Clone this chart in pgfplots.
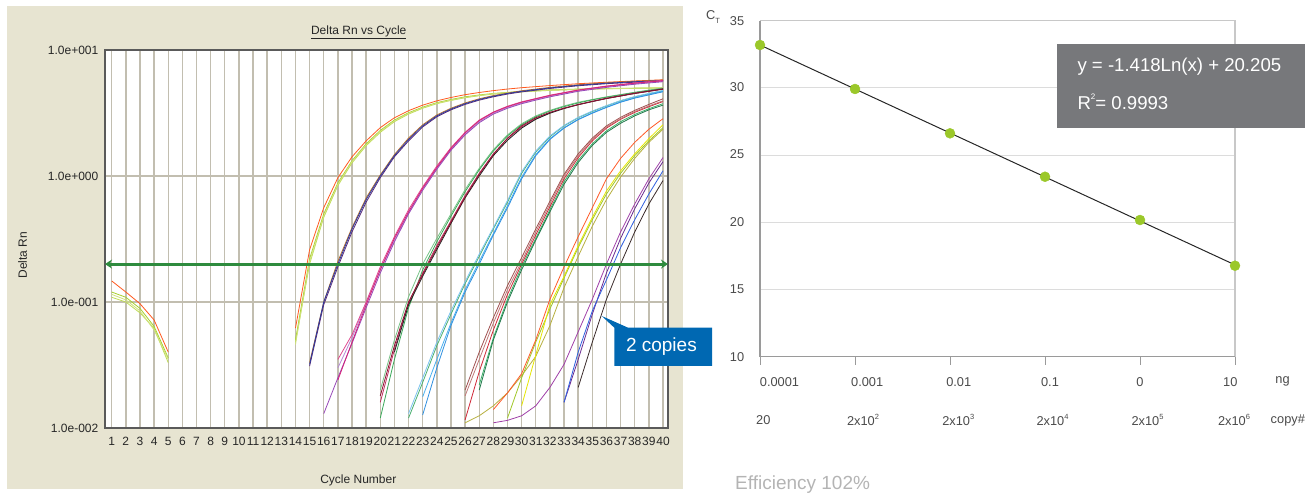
\documentclass[border=0pt]{standalone}
\usepackage{pgfplots}
\pgfplotsset{compat=1.18}
\usepackage{fontspec}
\setmainfont{Liberation Sans}
\usetikzlibrary{arrows.meta}
\newcommand{\sups}[1]{\raisebox{0.42em}{\fontsize{7.5}{7.5}\selectfont #1}}
\newcommand{\subs}[1]{\raisebox{-0.25em}{\fontsize{7.5}{7.5}\selectfont #1}}
\definecolor{beige}{HTML}{E7E4D1}
\definecolor{gridc}{HTML}{C2BEB0}
\definecolor{framec}{HTML}{5A5A5A}
\definecolor{thr}{HTML}{2E8B3E}
\definecolor{callb}{HTML}{0068B2}
\definecolor{eqbox}{HTML}{77787B}
\definecolor{dotc}{HTML}{9BC82A}
\definecolor{rgrid}{HTML}{DCDCDC}
\definecolor{rframe}{HTML}{C8C8C8}
\definecolor{raxis}{HTML}{9A9A9A}
\definecolor{rtext}{HTML}{4A4A4A}
\definecolor{effc}{HTML}{B4B4B4}
\definecolor{c01}{HTML}{FF5A1F}
\definecolor{c02}{HTML}{A8D02C}
\definecolor{c03}{HTML}{BFDC55}
\definecolor{c04}{HTML}{CFE27A}
\definecolor{c05}{HTML}{2A3A9E}
\definecolor{c06}{HTML}{B8702E}
\definecolor{c07}{HTML}{5A2A78}
\definecolor{c08}{HTML}{D4237A}
\definecolor{c09}{HTML}{9848B8}
\definecolor{c10}{HTML}{B68AD6}
\definecolor{c11}{HTML}{E0488E}
\definecolor{c12}{HTML}{8C1030}
\definecolor{c13}{HTML}{3AA858}
\definecolor{c14}{HTML}{78C488}
\definecolor{c15}{HTML}{202020}
\definecolor{c16}{HTML}{C03060}
\definecolor{c17}{HTML}{4AB070}
\definecolor{c18}{HTML}{48B0F0}
\definecolor{c19}{HTML}{3090E0}
\definecolor{c20}{HTML}{7CC4F0}
\definecolor{c21}{HTML}{C07878}
\definecolor{c22}{HTML}{D02838}
\definecolor{c23}{HTML}{20784A}
\definecolor{c24}{HTML}{3AB068}
\definecolor{c25}{HTML}{A05050}
\definecolor{c26}{HTML}{FF5A28}
\definecolor{c27}{HTML}{E6E600}
\definecolor{c28}{HTML}{A0C828}
\definecolor{c29}{HTML}{B8B040}
\definecolor{c30}{HTML}{A040A8}
\definecolor{c31}{HTML}{6A2A90}
\definecolor{c32}{HTML}{3060E0}
\definecolor{c33}{HTML}{3A2A2A}
\begin{document}
\begin{tikzpicture}[x=1pt,y=1pt]
\useasboundingbox (0,0) rectangle (1316,495);
\fill[beige] (7,6) rectangle (683,489);
\begin{axis}[
  at={(105pt,67pt)}, anchor=south west, scale only axis,
  width=563pt, height=378pt,
  xmin=0.526, xmax=40.354, ymode=log, ymin=0.01, ymax=10,
  xtick={1,...,40}, ytick={0.01,0.1,1,10},
  yticklabels={1.0e-002,1.0e-001,1.0e+000,1.0e+001},
  major tick length=0pt, yminorticks=false, xminorticks=false,
  xmajorgrids, ymajorgrids,
  grid style={color=gridc, line width=1.4pt},
  axis line style={draw=framec, line width=1.2pt},
  axis background/.style={fill=white},
  clip=false,
  /pgf/number format/assume math mode=true,
  xticklabel style={font=\fontsize{12}{12}\selectfont, text=black!85, inner sep=0pt, anchor=north, yshift=-9pt},
  yticklabel style={font=\fontsize{12}{12}\selectfont, text=black!85, inner sep=0pt, anchor=east, xshift=-6.5pt},
  every axis plot/.append style={line width=0.8pt, no markers},
]
% baselines
\addplot[c02] coordinates {(1,0.12)(2,0.109)(3,0.089)(4,0.064)(5,0.036)};
\addplot[c03] coordinates {(1,0.109)(2,0.1)(3,0.082)(4,0.062)(5,0.033)};
\addplot[c04] coordinates {(1,0.115)(2,0.104)(3,0.085)(4,0.06)(5,0.035)};
\addplot[c01] coordinates {(1,0.147)(2,0.12)(3,0.097)(4,0.072)(5,0.04)};
% group 1
\addplot[c02] coordinates {(14,0.05)(15,0.22)(16,0.5)(17,0.88)(18,1.32)(19,1.8)(20,2.3)(21,2.78)(22,3.18)(23,3.52)(24,3.82)(25,4.05)(26,4.25)(27,4.4)(28,4.52)(30,4.7)(32,4.82)(34,4.9)(36,4.95)(38,4.98)(40,5.0)};
\addplot[c03] coordinates {(14,0.048)(15,0.2)(16,0.47)(17,0.84)(18,1.27)(19,1.74)(20,2.22)(21,2.7)(22,3.1)(23,3.45)(24,3.75)(25,3.98)(26,4.18)(27,4.34)(28,4.47)(30,4.65)(32,4.78)(34,4.86)(36,4.92)(38,4.96)(40,5.0)};
\addplot[c04] coordinates {(14,0.046)(15,0.21)(16,0.48)(17,0.86)(18,1.3)(19,1.77)(20,2.26)(21,2.74)(22,3.14)(23,3.48)(24,3.78)(25,4.0)(26,4.2)(27,4.36)(28,4.5)(30,4.68)(32,4.8)(34,4.88)(36,4.93)(38,4.97)(40,5.02)};
\addplot[c01] coordinates {(14,0.062)(15,0.26)(16,0.56)(17,0.97)(18,1.42)(19,1.9)(20,2.42)(21,2.9)(22,3.3)(23,3.65)(24,3.95)(25,4.2)(26,4.42)(27,4.6)(28,4.76)(29,4.9)(30,5.02)(32,5.22)(34,5.4)(36,5.55)(38,5.68)(40,5.8)};
% group 2
\addplot[c06] coordinates {(15,0.033)(16,0.1)(17,0.21)(18,0.39)(19,0.67)(20,1.02)(21,1.48)(22,2.0)(23,2.55)(24,3.05)(25,3.45)(26,3.8)(27,4.1)(28,4.35)(29,4.55)(30,4.75)(32,5.05)(34,5.3)(36,5.5)(38,5.65)(40,5.78)};
\addplot[c07] coordinates {(15,0.031)(16,0.095)(17,0.19)(18,0.36)(19,0.62)(20,0.97)(21,1.42)(22,1.9)(23,2.45)(24,2.95)(25,3.35)(26,3.7)(27,4.0)(28,4.25)(29,4.47)(30,4.65)(32,4.95)(34,5.2)(36,5.4)(38,5.55)(40,5.68)};
\addplot[c05] coordinates {(15,0.032)(16,0.1)(17,0.2)(18,0.38)(19,0.65)(20,1.0)(21,1.45)(22,1.95)(23,2.5)(24,3.0)(25,3.4)(26,3.75)(27,4.05)(28,4.3)(29,4.52)(30,4.7)(32,5.0)(34,5.25)(36,5.45)(38,5.6)(40,5.72)};
% group 3
\addplot[c10] coordinates {(17,0.03)(18,0.052)(19,0.098)(20,0.18)(21,0.31)(22,0.51)(23,0.79)(24,1.15)(25,1.62)(26,2.15)(27,2.7)(28,3.15)(29,3.5)(30,3.8)(31,4.05)(32,4.3)(34,4.75)(36,5.1)(38,5.4)(40,5.65)};
\addplot[c09] coordinates {(16,0.013)(17,0.025)(18,0.047)(19,0.09)(20,0.17)(21,0.3)(22,0.5)(23,0.77)(24,1.13)(25,1.6)(26,2.12)(27,2.65)(28,3.1)(29,3.45)(30,3.75)(31,4.0)(32,4.25)(34,4.7)(36,5.05)(38,5.35)(40,5.6)};
\addplot[c11] coordinates {(17,0.035)(18,0.055)(19,0.1)(20,0.19)(21,0.33)(22,0.54)(23,0.82)(24,1.2)(25,1.68)(26,2.22)(27,2.78)(28,3.22)(29,3.58)(30,3.88)(31,4.12)(32,4.38)(34,4.82)(36,5.18)(38,5.48)(40,5.75)};
\addplot[c08] coordinates {(17,0.024)(18,0.048)(19,0.095)(20,0.18)(21,0.32)(22,0.52)(23,0.8)(24,1.17)(25,1.65)(26,2.2)(27,2.75)(28,3.2)(29,3.55)(30,3.85)(31,4.1)(32,4.35)(34,4.8)(36,5.15)(38,5.45)(40,5.7)};
% group 4
\addplot[c14] coordinates {(20,0.02)(21,0.05)(22,0.11)(23,0.2)(24,0.32)(25,0.5)(26,0.78)(27,1.15)(28,1.62)(29,2.12)(30,2.6)(31,3.0)(32,3.32)(33,3.6)(34,3.85)(35,4.05)(36,4.25)(38,4.62)(40,5.0)};
\addplot[c13] coordinates {(20,0.012)(21,0.035)(22,0.09)(23,0.18)(24,0.3)(25,0.48)(26,0.75)(27,1.12)(28,1.58)(29,2.08)(30,2.55)(31,2.95)(32,3.28)(33,3.55)(34,3.8)(35,4.02)(36,4.22)(38,4.6)(40,4.95)};
\addplot[c16] coordinates {(20,0.016)(21,0.042)(22,0.098)(23,0.17)(24,0.28)(25,0.44)(26,0.7)(27,1.05)(28,1.5)(29,1.98)(30,2.45)(31,2.85)(32,3.18)(33,3.46)(34,3.7)(35,3.92)(36,4.15)(38,4.55)(40,4.92)};
\addplot[c15] coordinates {(21,0.04)(22,0.095)(23,0.16)(24,0.26)(25,0.42)(26,0.67)(27,1.0)(28,1.45)(29,1.92)(30,2.4)(31,2.82)(32,3.15)(33,3.43)(34,3.68)(35,3.9)(36,4.12)(38,4.52)(40,4.9)};
\addplot[c12] coordinates {(20,0.018)(21,0.045)(22,0.1)(23,0.165)(24,0.27)(25,0.43)(26,0.68)(27,1.03)(28,1.48)(29,2.0)(30,2.5)(31,2.9)(32,3.2)(33,3.45)(34,3.68)(35,3.9)(36,4.12)(38,4.52)(40,4.88)};
% group 5
\addplot[c17] coordinates {(22,0.012)(23,0.023)(24,0.045)(25,0.08)(26,0.14)(27,0.23)(28,0.38)(29,0.62)(30,1.05)(31,1.55)(32,2.05)(33,2.5)(34,2.9)(35,3.25)(36,3.6)(37,3.95)(38,4.25)(39,4.5)(40,4.75)};
\addplot[c20] coordinates {(22,0.013)(23,0.025)(24,0.048)(25,0.085)(26,0.145)(27,0.24)(28,0.39)(29,0.64)(30,1.08)(31,1.58)(32,2.08)(33,2.52)(34,2.92)(35,3.28)(36,3.62)(37,3.97)(38,4.27)(39,4.52)(40,4.78)};
\addplot[c18] coordinates {(23,0.0177)(24,0.035)(25,0.068)(26,0.125)(27,0.21)(28,0.35)(29,0.58)(30,0.98)(31,1.48)(32,1.98)(33,2.42)(34,2.82)(35,3.18)(36,3.52)(37,3.88)(38,4.18)(39,4.44)(40,4.7)};
\addplot[c19] coordinates {(23,0.0127)(24,0.03)(25,0.065)(26,0.12)(27,0.2)(28,0.34)(29,0.56)(30,0.95)(31,1.45)(32,1.95)(33,2.4)(34,2.8)(35,3.15)(36,3.5)(37,3.85)(38,4.15)(39,4.4)(40,4.66)};
% group 6
\addplot[c24] coordinates {(27,0.022)(28,0.052)(29,0.105)(30,0.19)(31,0.32)(32,0.54)(33,0.9)(34,1.33)(35,1.8)(36,2.28)(37,2.7)(38,3.08)(39,3.42)(40,3.75)};
\addplot[c23] coordinates {(27,0.02)(28,0.05)(29,0.1)(30,0.18)(31,0.31)(32,0.52)(33,0.86)(34,1.28)(35,1.75)(36,2.22)(37,2.62)(38,3.0)(39,3.35)(40,3.65)};
\addplot[c22] coordinates {(26,0.0116)(27,0.028)(28,0.06)(29,0.115)(30,0.2)(31,0.34)(32,0.57)(33,0.95)(34,1.4)(35,1.9)(36,2.4)(37,2.82)(38,3.2)(39,3.55)(40,3.9)};
\addplot[c25] coordinates {(26,0.02)(27,0.04)(28,0.075)(29,0.135)(30,0.225)(31,0.38)(32,0.63)(33,1.03)(34,1.5)(35,2.0)(36,2.5)(37,2.92)(38,3.32)(39,3.7)(40,4.1)};
\addplot[c21] coordinates {(26,0.018)(27,0.035)(28,0.068)(29,0.125)(30,0.21)(31,0.36)(32,0.6)(33,1.0)(34,1.45)(35,1.95)(36,2.45)(37,2.85)(38,3.25)(39,3.6)(40,3.95)};
% group 7
\addplot[c29] coordinates {(26,0.011)(27,0.0125)(28,0.015)(29,0.019)(30,0.026)(31,0.037)(32,0.065)(33,0.13)(34,0.23)(35,0.4)(36,0.65)(37,0.98)(38,1.38)(39,1.85)(40,2.35)};
\addplot[c28] coordinates {(29,0.012)(30,0.025)(31,0.048)(32,0.088)(33,0.155)(34,0.27)(35,0.45)(36,0.72)(37,1.05)(38,1.45)(39,1.9)(40,2.42)};
\addplot[c27] coordinates {(30,0.015)(31,0.038)(32,0.095)(33,0.16)(34,0.28)(35,0.47)(36,0.76)(37,1.1)(38,1.5)(39,1.98)(40,2.55)};
\addplot[c26] coordinates {(28,0.014)(29,0.019)(30,0.027)(31,0.05)(32,0.105)(33,0.19)(34,0.33)(35,0.56)(36,0.95)(37,1.38)(38,1.85)(39,2.35)(40,2.85)};
% group 8
\addplot[c30] coordinates {(28,0.011)(29,0.0115)(30,0.0125)(31,0.015)(32,0.021)(33,0.032)(34,0.058)(35,0.105)(36,0.2)(37,0.36)(38,0.6)(39,0.95)(40,1.4)};
\addplot[c31] coordinates {(33,0.016)(34,0.035)(35,0.08)(36,0.17)(37,0.32)(38,0.55)(39,0.88)(40,1.3)};
\addplot[c32] coordinates {(33,0.016)(34,0.04)(35,0.085)(36,0.15)(37,0.27)(38,0.45)(39,0.72)(40,1.1)};
\addplot[c33] coordinates {(34,0.021)(35,0.048)(36,0.105)(37,0.2)(38,0.36)(39,0.6)(40,0.92)};
% threshold
\addplot[thr, line width=3pt, {Stealth[length=7pt,width=9pt]}-{Stealth[length=7pt,width=9pt]}] coordinates {(0.526,0.2) (40.354,0.2)};
\end{axis}
% left panel texts
\node[font=\fontsize{12}{12}\selectfont, text=black!85] at (358.7,463) {\underline{Delta Rn vs Cycle}};
\node[font=\fontsize{12}{12}\selectfont, text=black!85, rotate=90] at (22.5,240) {Delta Rn};
\node[font=\fontsize{12}{12}\selectfont, text=black!85] at (358.3,15) {Cycle Number};
% callout
\fill[callb] (601.7,179) -- (628,167.3) -- (712,167.3) -- (712,129) -- (614.3,129) -- (614.3,167.3) -- cycle;
\node[font=\fontsize{19}{19}\selectfont, text=white] at (661.4,148.3) {2 copies};
% right panel
\begin{axis}[
  at={(760pt,138.3pt)}, anchor=south west, scale only axis,
  width=475pt, height=336pt,
  xmin=0, xmax=5, ymin=10, ymax=35,
  xtick={0,...,5}, xticklabels={}, ytick={15,20,25,30}, yticklabels={},
  ymajorgrids, grid style={color=rgrid, line width=1pt},
  axis line style={draw=none},
  tick align=outside, major tick length=8pt, xtick pos=left,
  x tick style={color=raxis, line width=1pt}, y tick style={draw=none},
  clip=false,
]
\draw[rframe, line width=1.3pt] (rel axis cs:0,1) -- (rel axis cs:1,1) -- (rel axis cs:1,0);
\draw[raxis, line width=1.2pt] (rel axis cs:0,1) -- (rel axis cs:0,0) -- (rel axis cs:1,0);
\addplot[black!85, line width=1pt] coordinates {(0,33.19) (5,16.83)};
\addplot[only marks, mark=*, mark size=5pt, mark options={fill=dotc, draw=dotc}] coordinates {(0,33.19) (1,29.92) (2,26.62) (3,23.39) (4,20.17) (5,16.77)};
\end{axis}
% right panel texts
\begin{scope}[every node/.style={font=\fontsize{12.8}{13}\selectfont, text=rtext}]
\node at (737,474.3) {35};
\node at (737,407.7) {30};
\node at (737,340.7) {25};
\node at (737,273.3) {20};
\node at (737,205.7) {15};
\node at (737,138.3) {10};
\node at (779.5,113.3) {0.0001};
\node at (867.2,113.3) {0.001};
\node at (958.7,113.3) {0.01};
\node at (1050,113.3) {0.1};
\node at (1140,113.3) {0};
\node at (1230.3,113.3) {10};
\node at (1282.5,113.3) {ng};
\node at (763.3,75) {20};
\node at (863,75) {2x10\sups{2}};
\node at (958.3,75) {2x10\sups{3}};
\node at (1052.5,75) {2x10\sups{4}};
\node at (1147.5,75) {2x10\sups{5}};
\node at (1234,75) {2x10\sups{6}};
\node at (1287.8,75) {copy\#};
\node at (713,478) {C\subs{T}};
\end{scope}
\fill[eqbox] (1057.3,367.3) rectangle (1305,451);
\node[anchor=base west, inner sep=0pt, font=\fontsize{18.6}{18.6}\selectfont, text=white] at (1077.3,423.3) {y = -1.418Ln(x) + 20.205};
\node[anchor=base west, inner sep=0pt, font=\fontsize{18.6}{18.6}\selectfont, text=white] at (1077.3,385.7) {R\raisebox{0.5em}{\fontsize{8}{8}\selectfont 2}= 0.9993};
\node[anchor=base west, inner sep=0pt, font=\fontsize{19}{19}\selectfont, text=effc] at (735,5.5) {Efficiency 102\%};
\end{tikzpicture}
\end{document}
